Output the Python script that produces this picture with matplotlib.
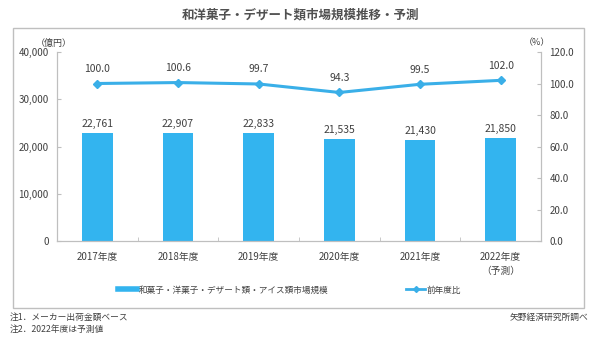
import matplotlib
matplotlib.use("Agg")
import matplotlib.pyplot as plt
from matplotlib.lines import Line2D
from matplotlib.patches import Rectangle

plt.rcParams['font.family'] = ['Noto Sans CJK JP', 'DejaVu Sans']

years = ["2017年度", "2018年度", "2019年度", "2020年度", "2021年度", "2022年度\n（予測）"]
market = [22761, 22907, 22833, 21535, 21430, 21850]
yoy = [100.0, 100.6, 99.7, 94.3, 99.5, 102.0]

bar_color = "#33B4EF"
line_color = "#3AAFE8"
txt = "#404040"
grid_c = "#BFBFBF"

fig = plt.figure(figsize=(6.0, 3.42), dpi=100)
ax = fig.add_axes([57/600, 1-241/342, (541-57)/600, (241-52)/342])
ax2 = ax.twinx()

x = list(range(len(years)))
ax.bar(x, market, width=0.38, color=bar_color, zorder=2)
ax.set_xlim(-0.5, 5.5)
ax.set_ylim(0, 40000)
ax.set_yticks(range(0, 40001, 10000))
ax.set_yticklabels([f"{v:,}" for v in range(0, 40001, 10000)])
ax.set_xticks(x)
ax.set_xticklabels(years, fontsize=7, color=txt, linespacing=1.5)
ax.set_xticks([i + 0.5 for i in range(-1, 6)], minor=True)
ax.tick_params(axis='x', which='major', length=0, pad=8)
ax.tick_params(axis='x', which='minor', direction='in', length=3, color=grid_c)
ax.tick_params(axis='y', direction='in', length=3, color=grid_c, labelsize=7, labelcolor=txt, pad=6)

# bar values
for i, v in enumerate(market):
    ax.annotate(f"{v:,}", (i, v), xytext=(0, 3), textcoords='offset points',
                ha='center', va='bottom', fontsize=7.5, color=txt)

ax2.plot(x, yoy, color=line_color, lw=2.2, marker='D', markersize=4.5, zorder=3)
ax2.set_ylim(0, 120)
ax2.set_yticks(range(0, 121, 20))
ax2.set_yticklabels([f"{v:.1f}" for v in range(0, 121, 20)])
ax2.tick_params(axis='y', direction='in', length=3, color=grid_c, labelsize=7, labelcolor=txt, pad=6)
for i, v in enumerate(yoy):
    ax2.annotate(f"{v:.1f}", (i, v), xytext=(0, 7), textcoords='offset points',
                 ha='center', va='bottom', fontsize=7.5, color=txt)

for a in (ax, ax2):
    for s in a.spines.values():
        s.set_color(grid_c)
    a.spines['top'].set_visible(False)

fig.text(0.5, 1-15/342, "和洋菓子・デザート類市場規模推移・予測", ha='center', va='center',
         fontsize=9, fontweight='bold', color="#505050")
fig.text(54/600, 1-43/342, "（億円）", ha='center', va='center', fontsize=6.5, color=txt)
fig.text(537/600, 1-43/342, "（%）", ha='center', va='center', fontsize=6.5, color=txt)

# outer frame
fig.patches.append(Rectangle((13/600, 1-308/342), 571/600, 280/342, transform=fig.transFigure,
                             fill=False, edgecolor=grid_c, lw=1))

handles = [Line2D([], [], color=bar_color, lw=4),
           Line2D([], [], color=line_color, lw=2, marker='D', markersize=3)]
labels = ["和菓子・洋菓子・デザート類・アイス類市場規模", "前年度比"]
fig.legend(handles, labels, loc='center', bbox_to_anchor=(290/600, 1-290/342), ncol=2,
           frameon=False, fontsize=6.2, handlelength=2.2, handletextpad=0.2,
           columnspacing=9, labelcolor=txt)

fig.text(10/600, 1-317/342, "注1．メーカー出荷金額ベース", ha='left', va='center', fontsize=6.3, color=txt)
fig.text(10/600, 1-329/342, "注2．2022年度は予測値", ha='left', va='center', fontsize=6.3, color=txt)
fig.text(588/600, 1-317/342, "矢野経済研究所調べ", ha='right', va='center', fontsize=6.3, color=txt)

fig.savefig("out.png", dpi=100)
